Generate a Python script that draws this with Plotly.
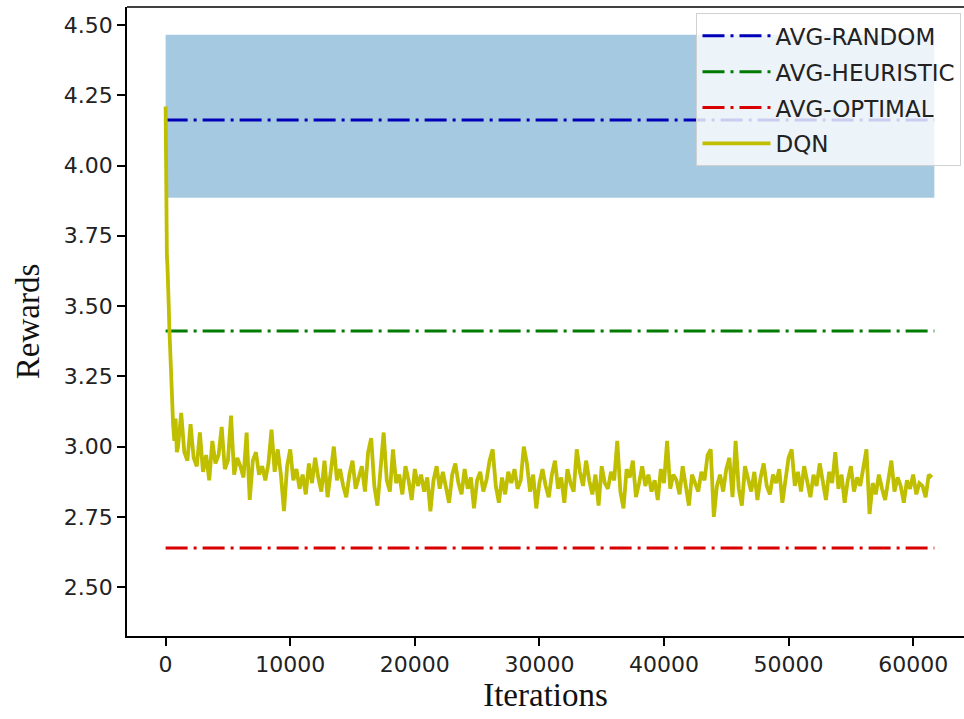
import plotly.graph_objects as go

# ---- data ----
band_x = [0, 61700]
band_low = [3.885, 3.885]
band_high = [4.465, 4.465]

avg_x = [0, 61700]
avg_random = 4.162
avg_heuristic = 3.411
avg_optimal = 2.639

early_iters = [0, 30, 60, 100, 150, 200, 250, 300, 400, 500, 600, 700, 800, 900]
early_rewards = [4.21, 3.95, 3.72, 3.68, 3.64, 3.60, 3.50, 3.42, 3.28, 3.15, 3.08, 3.02, 3.10, 2.98]

step_start = 1000
step = 250
dqn_rewards = [
    3.00, 3.12, 2.98, 2.95, 3.08, 2.96, 2.93, 3.05, 2.91, 2.97,
    2.88, 3.02, 2.94, 2.97, 3.07, 2.92, 2.95, 3.11, 2.90, 2.96,
    2.93, 2.89, 3.05, 2.81, 2.95, 2.98, 2.90, 2.93, 2.88, 2.94,
    3.06, 2.91, 2.99, 2.90, 2.77, 2.93, 2.99, 2.88, 2.92, 2.85,
    2.90, 2.83, 2.94, 2.87, 2.96, 2.89, 2.84, 2.95, 2.82, 2.91,
    3.00, 2.88, 2.92, 2.86, 2.82, 2.90, 2.95, 2.85, 2.89, 2.93,
    2.84, 2.98, 3.03, 2.86, 2.79, 2.91, 3.05, 2.88, 2.84, 2.99,
    2.87, 2.90, 2.83, 2.93, 2.88, 2.81, 2.92, 2.86, 2.90, 2.84,
    2.89, 2.77, 2.88, 2.93, 2.85, 2.91, 2.86, 2.80, 2.90, 2.94,
    2.87, 2.83, 2.92, 2.85, 2.89, 2.78, 2.88, 2.91, 2.84, 2.88,
    2.95, 2.99, 2.86, 2.80, 2.89, 2.83, 2.91, 2.87, 2.92, 2.85,
    2.88, 3.00, 2.94, 2.84, 2.90, 2.78, 2.87, 2.92, 2.86, 2.82,
    2.90, 2.95, 2.85, 2.89, 2.80, 2.92, 2.87, 2.84, 2.99, 2.91,
    2.86, 2.95, 2.88, 2.83, 2.90, 2.79, 2.93, 2.87, 2.85, 2.91,
    2.88, 3.02, 2.84, 2.78, 2.92, 2.89, 2.95, 2.82, 2.87, 2.93,
    2.86, 2.90, 2.84, 2.88, 2.81, 2.92, 2.87, 3.02, 2.85, 2.90,
    2.88, 2.83, 2.93, 2.86, 2.79, 2.90, 2.87, 2.84, 2.91, 2.88,
    2.97, 2.99, 2.75, 2.86, 2.90, 2.84, 2.92, 2.96, 2.82, 3.02,
    2.85, 2.79, 2.93, 2.88, 2.84, 2.91, 2.81, 2.89, 2.94, 2.86,
    2.83, 2.90, 2.87, 2.92, 2.80, 2.88, 2.96, 2.99, 2.86, 2.91,
    2.84, 2.93, 2.87, 2.82, 2.90, 2.86, 2.94, 2.88, 2.81, 2.91,
    2.87, 2.98, 2.85, 2.90, 2.80, 2.88, 2.93, 2.84, 2.89, 2.86,
    2.92, 2.99, 2.76, 2.87, 2.83, 2.90, 2.85, 2.81, 2.88, 2.95,
    2.84, 2.89, 2.86, 2.80, 2.88, 2.85, 2.90, 2.83, 2.87, 2.86,
    2.82, 2.90, 2.89,
]

x_ticks = [0, 10000, 20000, 30000, 40000, 50000, 60000]
y_ticks = [2.50, 2.75, 3.00, 3.25, 3.50, 3.75, 4.00, 4.25, 4.50]

dqn_x = early_iters + [step_start + i * step for i in range(len(dqn_rewards))]
dqn_y = early_rewards + dqn_rewards

DASHDOT = "22px,6px,3px,6px"

fig = go.Figure()
fig.add_trace(go.Scatter(x=band_x, y=band_low, mode="lines", line=dict(width=0),
                         showlegend=False, hoverinfo="skip", legendgroup="z"))
fig.add_trace(go.Scatter(x=band_x, y=band_high, mode="lines", line=dict(width=0),
                         fill="tonexty", fillcolor="rgba(31,119,180,0.4)",
                         showlegend=False, hoverinfo="skip", legendgroup="z"))
fig.add_trace(go.Scatter(x=avg_x, y=[avg_random] * 2, mode="lines", name="AVG-RANDOM",
                         legendgroup="a", line=dict(color="#0000b8", width=3, dash=DASHDOT)))
fig.add_trace(go.Scatter(x=avg_x, y=[avg_heuristic] * 2, mode="lines", name="AVG-HEURISTIC",
                         legendgroup="b", line=dict(color="#007a00", width=3, dash=DASHDOT)))
fig.add_trace(go.Scatter(x=avg_x, y=[avg_optimal] * 2, mode="lines", name="AVG-OPTIMAL",
                         legendgroup="c", line=dict(color="#d80000", width=3, dash=DASHDOT)))
fig.add_trace(go.Scatter(x=dqn_x, y=dqn_y, mode="lines", name="DQN",
                         legendgroup="d", line=dict(color="#bfbf00", width=3.8)))

fig.update_layout(
    width=964, height=719,
    margin=dict(l=127, r=0, t=7, b=83),
    paper_bgcolor="white", plot_bgcolor="white",
    font=dict(family="DejaVu Sans", size=22, color="#222"),
    legend=dict(x=0.997, y=0.99, xanchor="right", yanchor="top", traceorder="grouped",
                bgcolor="rgba(255,255,255,0.8)", bordercolor="#d0d0d0", borderwidth=1,
                font=dict(family="DejaVu Sans", size=23, color="#222"),
                itemwidth=68, tracegroupgap=3),
    xaxis=dict(range=[-3100, 64080], tickvals=x_ticks, ticktext=[str(v) for v in x_ticks],
               showgrid=False, zeroline=False, showline=True, linecolor="black", linewidth=1.5,
               ticks="outside", ticklen=8, tickcolor="black", tickwidth=1.5,
               title=dict(text="Iterations", font=dict(family="Liberation Serif", size=33, color="#111"),
                          standoff=2)),
    yaxis=dict(range=[2.326, 4.564], tickvals=y_ticks, ticktext=[f"{v:.2f}" for v in y_ticks],
               showgrid=False, zeroline=False, showline=True, linecolor="black", linewidth=1.5,
               ticks="outside", ticklen=8, tickcolor="black", tickwidth=1.5,
               title=dict(text="Rewards", font=dict(family="Liberation Serif", size=33, color="#111"),
                          standoff=14)),
)
fig.add_shape(type="line", xref="paper", yref="paper", x0=0, x1=1, y0=1, y1=1,
              line=dict(color="black", width=1.5))

fig.write_html("out.html")
